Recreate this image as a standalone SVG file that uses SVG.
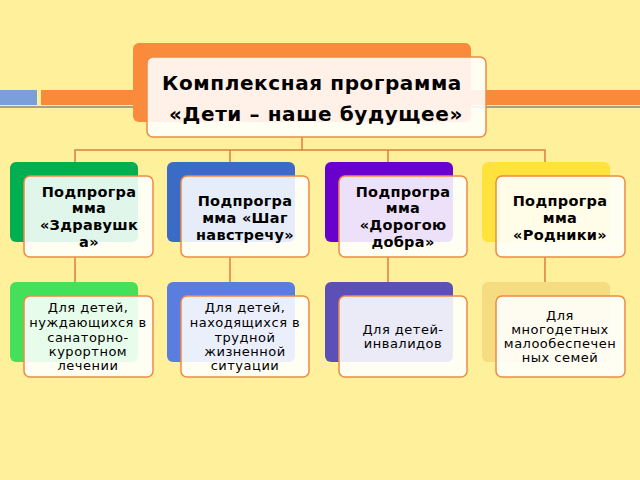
<svg xmlns="http://www.w3.org/2000/svg" width="640" height="480" viewBox="0 0 640 480">
<style>
.f{fill:#fff;fill-opacity:0.88;stroke:#EE8A44;stroke-width:1.5}
.c{fill:none;stroke:#D9803E;stroke-width:1.5}
text{font-family:"DejaVu Sans",sans-serif;fill:#000;text-anchor:middle}
.t0{font-size:20px;font-weight:bold;letter-spacing:0.6px}
.t1{font-size:14.5px;font-weight:bold;letter-spacing:0.3px}
.t2{font-size:13px;letter-spacing:0.5px}
</style>
<rect width="640" height="480" fill="#FFF09B"/>
<rect x="0" y="90" width="37" height="15" fill="#7A9FDA"/>
<rect x="41" y="90" width="599" height="15" fill="#F98A3A"/>
<rect x="0" y="106" width="640" height="2" fill="#A8A08A"/>
<g id="connectors">
<path class="c" d="M302 137V150M75 162V150H545V162M230 150V162M388 150V162M75 257V282M230 257V282M388 257V282M545 257V282"/>
</g>
<g id="root">
<rect x="133" y="43" width="338" height="79" rx="6" fill="#FA8A3C"/>
<rect class="f" x="147" y="57" width="339" height="80" rx="6"/>
<text class="t0" x="312" y="90">Комплексная программа</text>
<text class="t0" x="316" y="121">«Дети – наше будущее»</text>
</g>
<g id="n1"><rect x="10" y="162" width="128" height="80" rx="6" fill="#00B050"/><rect class="f" x="24" y="176" width="129" height="81" rx="6"/>
<text class="t1" x="89" y="197">Подпрогра</text><text class="t1" x="89" y="213">мма</text><text class="t1" x="89" y="230">«Здравушк</text><text class="t1" x="89" y="247">а»</text></g>
<g id="n2"><rect x="167" y="162" width="128" height="80" rx="6" fill="#3A6BC6"/><rect class="f" x="181" y="176" width="128" height="81" rx="6"/>
<text class="t1" x="245" y="206">Подпрогра</text><text class="t1" x="245" y="223">мма «Шаг</text><text class="t1" x="245" y="240">навстречу»</text></g>
<g id="n3"><rect x="325" y="162" width="128" height="80" rx="6" fill="#6A00CC"/><rect class="f" x="339" y="176" width="128" height="81" rx="6"/>
<text class="t1" x="403" y="197">Подпрогра</text><text class="t1" x="403" y="213">мма</text><text class="t1" x="403" y="230">«Дорогою</text><text class="t1" x="403" y="247">добра»</text></g>
<g id="n4"><rect x="482" y="162" width="128" height="80" rx="6" fill="#FFE23C"/><rect class="f" x="496" y="176" width="129" height="81" rx="6"/>
<text class="t1" x="560" y="206">Подпрогра</text><text class="t1" x="560" y="223">мма</text><text class="t1" x="560" y="240">«Родники»</text></g>
<g id="d1"><rect x="10" y="282" width="128" height="80" rx="6" fill="#44E05A"/><rect class="f" x="24" y="296" width="129" height="81" rx="6"/>
<text class="t2" x="88" y="312">Для детей,</text><text class="t2" x="88" y="327">нуждающихся в</text><text class="t2" x="88" y="342">санаторно-</text><text class="t2" x="88" y="356">курортном</text><text class="t2" x="88" y="370">лечении</text></g>
<g id="d2"><rect x="167" y="282" width="128" height="80" rx="6" fill="#5A7DE0"/><rect class="f" x="181" y="296" width="128" height="81" rx="6"/>
<text class="t2" x="245" y="312">Для детей,</text><text class="t2" x="245" y="327">находящихся в</text><text class="t2" x="245" y="342">трудной</text><text class="t2" x="245" y="356">жизненной</text><text class="t2" x="245" y="370">ситуации</text></g>
<g id="d3"><rect x="325" y="282" width="128" height="80" rx="6" fill="#5A50B8"/><rect class="f" x="339" y="296" width="128" height="81" rx="6"/>
<text class="t2" x="403" y="334">Для детей-</text><text class="t2" x="403" y="348">инвалидов</text></g>
<g id="d4"><rect x="482" y="282" width="128" height="80" rx="6" fill="#F5DC80"/><rect class="f" x="496" y="296" width="129" height="81" rx="6"/>
<text class="t2" x="560" y="320">Для</text><text class="t2" x="560" y="334">многодетных</text><text class="t2" x="560" y="348">малообеспечен</text><text class="t2" x="560" y="362">ных семей</text></g>
</svg>
